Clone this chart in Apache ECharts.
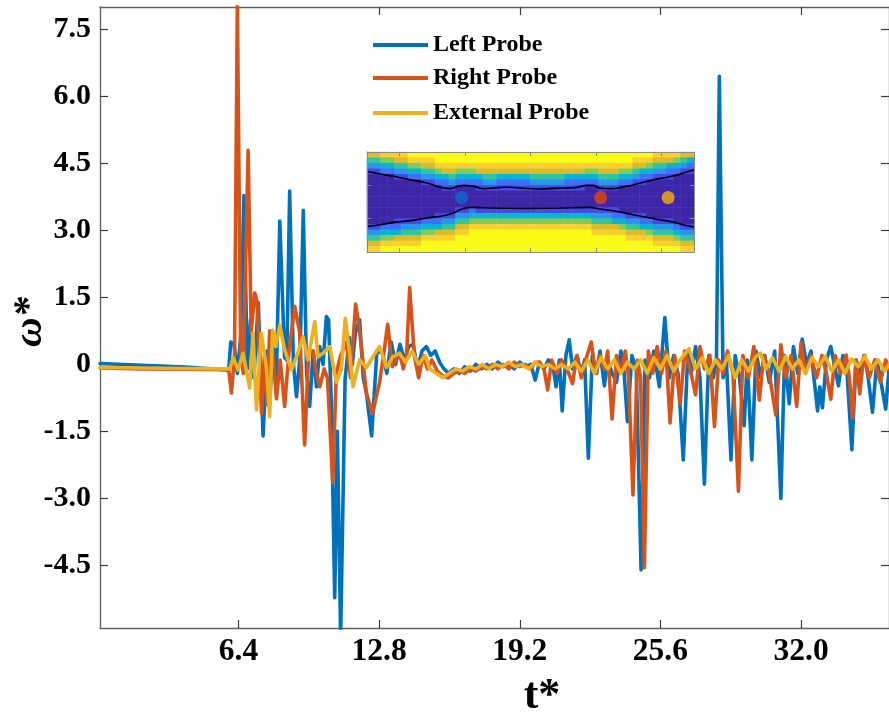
<!DOCTYPE html>
<html>
<head>
<meta charset="utf-8">
<script src="https://cdn.jsdelivr.net/npm/echarts@6/dist/echarts.min.js"></script>
<style>
  html, body { margin: 0; padding: 0; background: #ffffff; }
  #chart { width: 889px; height: 719px; }
</style>
</head>
<body>
<div id="chart"></div>
<script>
// ---- probe signals: [t*, omega*] ----
const leftProbe = [
  [0.1, 0.02], [2, -0.02], [4, -0.06], [5.8, -0.12], [5.95, -0.15], [6.05, 0.5], [6.2, 0.45], [6.35, -0.2],
  [6.5, 0.6], [6.65, 3.78], [6.8, -0.1], [6.95, 1.0], [7.1, -0.3], [7.3, 1.38], [7.52, -1.6], [7.7, 0.3],
  [7.85, -0.6], [8.0, 0.5], [8.12, -0.4], [8.28, 3.21], [8.5, 0.15], [8.6, 0.1], [8.73, 3.88], [8.9, 0.0],
  [9.04, -0.72], [9.2, 0.2], [9.35, 3.45], [9.5, -0.2], [9.64, -0.94], [9.8, 0.3], [9.95, -0.5], [10.1, 0.4],
  [10.25, 0.0], [10.4, 1.07], [10.5, 1.0], [10.62, -0.8], [10.78, -5.22], [10.9, -1.5], [11.05, -6.1], [11.25, -0.34],
  [11.45, 0.6], [11.58, 0.0], [11.72, 0.7], [11.91, 1.0], [12.08, -0.3], [12.22, -0.64], [12.46, -1.6], [12.7, 0.3],
  [12.96, 0.25], [13.15, -0.2], [13.35, 0.5], [13.55, 0.0], [13.75, 0.45], [13.95, 0.1], [14.15, 0.4], [14.35, 0.45],
  [14.55, -0.1], [14.75, 0.3], [14.95, 0.4], [15.15, 0.2], [15.35, 0.3], [15.55, 0.05], [15.75, -0.1], [15.95, -0.2],
  [16.2, -0.1], [16.45, -0.2], [16.7, -0.05], [16.95, -0.15], [17.2, 0.0], [17.45, -0.1], [17.7, 0.0], [17.95, -0.1],
  [18.2, 0.05], [18.45, -0.05], [18.7, 0.0], [18.95, -0.1], [19.2, 0.05], [19.45, -0.05], [19.7, 0.0], [19.9, -0.35],
  [20.1, 0.05], [20.3, -0.1], [20.5, 0.1], [20.7, 0.0], [20.85, -0.5], [21.0, 0.1], [21.13, -1.04], [21.3, 0.2],
  [21.45, 0.55], [21.6, -0.1], [21.8, 0.2], [22.0, -0.2], [22.15, 0.1], [22.32, -2.1], [22.5, 0.2], [22.7, -0.2],
  [22.85, 0.3], [23.05, -0.48], [23.2, 0.1], [23.4, -0.2], [23.6, -0.4], [23.8, 0.3], [23.95, -0.2], [24.1, -1.28],
  [24.3, 0.2], [24.5, -0.1], [24.72, -4.6], [24.9, 0.1], [25.1, -0.3], [25.3, 0.3], [25.55, -0.5], [25.8, 1.05],
  [26.0, -0.3], [26.2, 0.2], [26.4, -0.2], [26.64, -2.14], [26.85, 0.3], [27.0, -0.2], [27.2, 0.4], [27.4, -0.3],
  [27.6, -2.68], [27.8, 0.2], [28.0, -0.3], [28.15, 0.1], [28.28, 6.45], [28.45, -0.3], [28.6, 0.1], [28.81, -2.14],
  [29.0, 0.2], [29.2, -0.3], [29.41, -1.37], [29.55, 0.1], [29.76, -2.14], [29.95, 0.3], [30.15, -0.3], [30.35, 0.2],
  [30.55, -0.4], [30.8, 0.3], [31.08, -3.0], [31.25, 0.2], [31.46, -0.88], [31.65, 0.4], [31.85, -0.2], [32.05, 0.57],
  [32.25, 0.0], [32.45, 0.3], [32.75, -1.04], [32.85, -0.5], [32.97, -0.97], [33.15, 0.1], [33.35, 0.4], [33.55, -0.1],
  [33.7, -0.48], [33.9, 0.2], [34.1, -0.27], [34.31, -1.91], [34.5, 0.1], [34.7, -0.2], [34.9, 0.2], [35.05, -0.3],
  [35.25, -1.07], [35.45, 0.1], [35.6, -0.3], [35.85, -1.0], [36.0, -0.1]
];

const rightProbe = [
  [0.1, -0.08], [2, -0.1], [4, -0.11], [5.8, -0.12], [5.95, -0.1], [6.08, -0.64], [6.22, 0.2], [6.35, 8.1],
  [6.5, 0.3], [6.62, -0.2], [6.84, 4.79], [6.98, 0.7], [7.14, 1.6], [7.25, 1.4], [7.45, -1.1], [7.58, 0.2],
  [7.7, -0.9], [7.82, 0.75], [7.95, 0.3], [8.13, -0.77], [8.3, 0.1], [8.5, -0.94], [8.7, 0.3], [8.96, 1.3],
  [9.19, 0.7], [9.41, -1.8], [9.6, 0.3], [9.79, 0.3], [9.95, -0.2], [10.1, -0.5], [10.3, -0.1], [10.45, -0.3],
  [10.69, -2.65], [10.85, -0.2], [11.05, 0.2], [11.31, 0.5], [11.5, -0.3], [11.73, 1.35], [11.9, 0.8], [12.22, -0.64],
  [12.5, -1.1], [12.82, -0.4], [13.0, 0.2], [13.19, 0.9], [13.4, -0.05], [13.73, 0.25], [13.9, -0.1], [14.05, 0.2],
  [14.19, 1.72], [14.4, 0.2], [14.6, -0.3], [14.8, 0.2], [15.0, -0.1], [15.2, 0.1], [15.45, -0.15], [15.7, -0.25],
  [15.95, -0.3], [16.2, -0.2], [16.45, -0.15], [16.7, -0.2], [16.95, -0.1], [17.2, -0.15], [17.45, -0.05], [17.7, -0.1],
  [17.95, 0.0], [18.2, -0.1], [18.45, 0.0], [18.7, -0.1], [18.95, 0.05], [19.2, -0.05], [19.45, 0.0], [19.7, -0.1],
  [19.9, 0.05], [20.1, 0.05], [20.3, -0.1], [20.47, -0.57], [20.65, 0.1], [20.9, -0.2], [21.1, 0.1], [21.35, -0.1],
  [21.6, -0.43], [21.8, 0.2], [22.0, -0.3], [22.2, 0.1], [22.45, 0.5], [22.65, -0.2], [22.85, 0.2], [23.05, -0.1],
  [23.2, 0.3], [23.4, -1.22], [23.6, 0.2], [23.8, -0.2], [24.0, 0.3], [24.15, -0.3], [24.35, -2.92], [24.55, 0.1],
  [24.7, -0.3], [24.87, -4.55], [25.05, 0.3], [25.25, -0.2], [25.45, 0.4], [25.65, -0.2], [25.85, 0.3], [26.04, -1.31],
  [26.25, 0.2], [26.5, -0.88], [26.7, 0.3], [26.95, -0.1], [27.2, -0.68], [27.4, 0.4], [27.6, -0.1], [27.85, 0.2],
  [28.06, -1.39], [28.25, 0.1], [28.45, -0.2], [28.65, 0.3], [28.9, -0.2], [29.15, -2.84], [29.35, 0.2], [29.6, -0.3],
  [29.85, 0.4], [30.1, -0.8], [30.3, 0.2], [30.55, -0.2], [30.85, -1.13], [31.08, 0.44], [31.3, -0.3], [31.55, 0.2],
  [31.8, -0.94], [32.0, 0.49], [32.2, -0.2], [32.45, 0.2], [32.7, -0.3], [32.95, 0.2], [33.15, -0.2], [33.35, -0.78],
  [33.55, 0.2], [33.8, -0.2], [34.05, 0.21], [34.2, -0.3], [34.34, -1.2], [34.5, 0.1], [34.67, -0.66], [34.85, 0.2],
  [35.1, -0.3], [35.35, 0.1], [35.6, -0.4], [35.85, 0.1], [36.0, -0.1]
];

const externalProbe = [
  [0.1, -0.07], [2, -0.08], [4, -0.09], [5.8, -0.1], [6.0, -0.1], [6.16, 0.15], [6.38, -0.12], [6.61, 0.25],
  [6.91, -0.53], [7.06, 0.7], [7.22, -1.02], [7.44, 0.7], [7.67, -0.07], [7.82, -1.17], [7.95, 0.77], [8.1, 0.4],
  [8.28, 0.88], [8.5, 0.33], [8.81, -0.12], [9.04, 0.17], [9.34, 0.62], [9.56, 0.1], [9.87, 0.96], [10.02, 0.17],
  [10.25, 0.25], [10.55, 0.4], [10.85, -0.4], [11.08, -0.12], [11.26, 1.03], [11.46, 0.25], [11.61, -0.5], [11.91, 0.1],
  [12.22, -0.07], [12.52, 0.17], [12.82, 0.4], [13.13, -0.07], [13.43, 0.17], [13.73, 0.25], [14.0, 0.05], [14.3, 0.3],
  [14.6, 0.0], [14.9, 0.2], [15.1, -0.1], [15.4, -0.2], [15.7, -0.3], [16.0, -0.2], [16.3, -0.1], [16.6, -0.15],
  [16.9, -0.05], [17.2, -0.1], [17.5, 0.0], [17.8, -0.1], [18.1, 0.0], [18.4, -0.05], [18.7, 0.05], [19.0, -0.05],
  [19.3, 0.0], [19.6, -0.1], [19.9, 0.05], [20.2, -0.05], [20.5, 0.0], [20.8, -0.1], [21.1, 0.0], [21.4, -0.1],
  [21.7, 0.05], [22.0, -0.15], [22.3, 0.1], [22.6, -0.2], [22.9, 0.15], [23.2, -0.1], [23.5, 0.1], [23.8, -0.2],
  [24.1, 0.05], [24.4, -0.1], [24.7, 0.1], [25.0, -0.2], [25.3, 0.15], [25.6, -0.1], [25.9, 0.2], [26.2, -0.15],
  [26.5, 0.1], [26.9, 0.35], [27.2, -0.1], [27.5, 0.15], [27.8, -0.2], [28.1, 0.1], [28.4, -0.1], [28.7, 0.2],
  [29.0, -0.3], [29.3, 0.1], [29.6, -0.15], [29.9, 0.15], [30.15, 0.25], [30.4, -0.1], [30.7, 0.15], [31.0, -0.15],
  [31.3, 0.18], [31.6, -0.1], [31.9, 0.1], [32.2, -0.2], [32.5, 0.15], [32.8, -0.05], [33.1, 0.18], [33.4, -0.15],
  [33.7, 0.1], [34.0, -0.2], [34.3, 0.12], [34.6, -0.05], [34.9, 0.18], [35.2, -0.1], [35.5, 0.1], [35.8, -0.15],
  [36.0, 0.0]
];

const seriesNames = ['Left Probe', 'Right Probe', 'External Probe'];
const seriesColors = ['#0072BD', '#D95319', '#EDB120'];

const xTicks = [6.4, 12.8, 19.2, 25.6, 32.0];
const yTicks = [-4.5, -3.0, -1.5, 0, 1.5, 3.0, 4.5, 6.0, 7.5];

// ---- inset: channel field, one string per column (top row first), levels 0..9 ----
const fieldCols = [
  '753100000000013578', '753100000000013578', '864200000000024689', '864200000000024689',
  '875310000000124789', '875310000000135789', '986420000000135789', '986420000000135789',
  '987531000000246899', '987531000000246899', '998642000001247899', '998742100001357899',
  '998753100001357899', '998642000013578999', '998642000013578999', '998642000024689999',
  '998742100014689999', '998753100014689999', '998753100014689999', '998742100014689999',
  '998742100014689999', '998742100014689999', '998742100014689999', '998742100014689999',
  '998753100014689999', '998753100014689999', '998753100014689999', '998753100014689999',
  '998753100014689999', '998742100014689999', '998742100014689999', '998742100014689999',
  '998642000014689999', '998642000013578999', '998753100013578999', '998753100013578999',
  '998753100012478999', '998642000002468999', '998642000001357899', '987531000001357899',
  '987421000001247899', '986420000000246899', '875310000000135789', '875310000000135789',
  '874210000000135789', '864200000000024689', '753100000000013578', '742100000000013578'
];
// contour of the dark core, [column, row]
const topContour = [
  [0, 3.48], [1.95, 3.96], [3.9, 4.38], [6.35, 4.98], [8.79, 5.58], [10.74, 6.36], [12.2, 6.6], [13.43, 6.18],
  [14.16, 6.0], [15.63, 6.18], [17.09, 6.6], [18.55, 6.48], [20.5, 6.3], [22.46, 6.48], [25.39, 6.66], [28.32, 6.48],
  [30.76, 6.36], [32.23, 6.0], [33.2, 6.0], [34.18, 6.48], [36.13, 6.6], [38.09, 6.18], [39.55, 5.76], [41.5, 5.16],
  [43.46, 4.68], [45.41, 4.2], [46.88, 3.6], [48, 3.18]
];
const bottomContour = [
  [0, 13.38], [1.95, 13.08], [3.9, 12.66], [6.35, 12.36], [8.79, 11.88], [11.23, 11.46], [12.7, 10.98], [13.67, 10.38],
  [15.14, 9.96], [18.55, 10.08], [23.44, 10.14], [28.32, 10.08], [32.72, 9.96], [34.18, 10.26], [36.13, 10.56], [39.06, 11.28],
  [41.02, 11.76], [42.97, 12.18], [44.92, 12.6], [46.39, 13.08], [48, 13.5]
];
const probeCols = [13.9, 34.3, 44.2];
const probeRow = 8.2;
const probeColors = ['#0A68D4', '#E5460B', '#F6B300'];
const insetXTicks = [4.8, 14.4, 24.0, 33.6, 43.2];
const insetYTicks = [6, 12];

const parula = ['#3E26A8', '#4747EB', '#3E6FFF', '#2796EB', '#08B5D0', '#31C69F', '#81CC59', '#DCBD29', '#FCCF30', '#F9FB15'];

const FONT = '"Liberation Serif", "Times New Roman", serif';

const heatData = [];
fieldCols.forEach((col, c) => {
  for (let r = 0; r < col.length; r++) heatData.push([c, r, Number(col[r])]);
});
const colCats = fieldCols.map((_, i) => String(i));
const rowCats = fieldCols[0].split('').map((_, i) => String(i));

const mainAxisLine = { show: true, onZero: false, lineStyle: { color: '#5f5f5f', width: 1.3 } };
const insetAxisLine = { show: true, onZero: false, lineStyle: { color: '#8a8a8a', width: 1 } };

const chart = echarts.init(document.getElementById('chart'), null, { renderer: 'canvas' });

chart.setOption({
  animation: false,
  backgroundColor: '#ffffff',
  grid: [
    { left: 100, top: 7, width: 790, height: 621 },
    { left: 367, top: 152, width: 327, height: 100 },
    { left: 367, top: 152, width: 327, height: 100 }
  ],
  xAxis: [
    {
      type: 'value', gridIndex: 0, min: 0.1, max: 36, position: 'bottom',
      axisLine: mainAxisLine,
      axisTick: { show: true, inside: true, length: 8, customValues: xTicks, lineStyle: { color: '#3a3a3a', width: 1.2 } },
      axisLabel: {
        customValues: xTicks, formatter: v => Number(v).toFixed(1), margin: 8,
        fontFamily: FONT, fontWeight: 'bold', fontSize: 31.5, color: '#000'
      },
      splitLine: { show: false }
    },
    {
      type: 'value', gridIndex: 0, min: 0.1, max: 36, position: 'top',
      axisLine: mainAxisLine,
      axisTick: { show: true, inside: true, length: 8, customValues: xTicks, lineStyle: { color: '#3a3a3a', width: 1.2 } },
      axisLabel: { show: false }, splitLine: { show: false }
    },
    { type: 'category', gridIndex: 1, data: colCats, show: false },
    {
      type: 'value', gridIndex: 2, min: 0, max: 48, position: 'bottom', z: 6,
      axisLine: insetAxisLine,
      axisTick: { show: true, inside: true, length: 4, customValues: insetXTicks, lineStyle: { color: '#8a8a8a' } },
      axisLabel: { show: false }, splitLine: { show: false }
    },
    {
      type: 'value', gridIndex: 2, min: 0, max: 48, position: 'top', z: 6,
      axisLine: insetAxisLine,
      axisTick: { show: true, inside: true, length: 4, customValues: insetXTicks, lineStyle: { color: '#8a8a8a' } },
      axisLabel: { show: false }, splitLine: { show: false }
    }
  ],
  yAxis: [
    {
      type: 'value', gridIndex: 0, min: -5.9, max: 8, position: 'left',
      axisLine: mainAxisLine,
      axisTick: { show: true, inside: true, length: 8, customValues: yTicks, lineStyle: { color: '#3a3a3a', width: 1.2 } },
      axisLabel: {
        customValues: yTicks, formatter: v => (Number(v) === 0 ? '0' : Number(v).toFixed(1)), margin: 9,
        fontFamily: FONT, fontWeight: 'bold', fontSize: 30, color: '#000'
      },
      splitLine: { show: false }
    },
    {
      type: 'value', gridIndex: 0, min: -5.9, max: 8, position: 'right',
      axisLine: mainAxisLine,
      axisTick: { show: true, inside: true, length: 8, customValues: yTicks, lineStyle: { color: '#3a3a3a', width: 1.2 } },
      axisLabel: { show: false }, splitLine: { show: false }
    },
    { type: 'category', gridIndex: 1, data: rowCats, inverse: true, show: false },
    {
      type: 'value', gridIndex: 2, min: 0, max: 18, inverse: true, position: 'left', z: 6,
      axisLine: insetAxisLine,
      axisTick: { show: true, inside: true, length: 4, customValues: insetYTicks, lineStyle: { color: '#8a8a8a' } },
      axisLabel: { show: false }, splitLine: { show: false }
    },
    {
      type: 'value', gridIndex: 2, min: 0, max: 18, inverse: true, position: 'right', z: 6,
      axisLine: insetAxisLine,
      axisTick: { show: true, inside: true, length: 4, customValues: insetYTicks, lineStyle: { color: '#8a8a8a' } },
      axisLabel: { show: false }, splitLine: { show: false }
    }
  ],
  visualMap: {
    show: false, type: 'continuous', min: 0, max: 9, dimension: 2, seriesIndex: 3,
    inRange: { color: parula }
  },
  legend: seriesNames.map((name, i) => ({
    data: [name], left: 373, top: [33, 66, 101][i], orient: 'vertical', padding: 0,
    icon: 'rect', itemWidth: 55, itemHeight: 4, selectedMode: false,
    textStyle: { fontFamily: FONT, fontWeight: 'bold', fontSize: 24, color: '#000' }
  })),
  series: [
    ...[leftProbe, rightProbe, externalProbe].map((d, i) => ({
      name: seriesNames[i], type: 'line', xAxisIndex: 0, yAxisIndex: 0, data: d,
      showSymbol: false, symbol: 'none', sampling: 'none', clip: true,
      color: seriesColors[i],
      lineStyle: { color: seriesColors[i], width: 3.6, join: 'round', cap: 'round' },
      emphasis: { disabled: true }, z: 2 + i * 0.1
    })),
    {
      type: 'heatmap', xAxisIndex: 2, yAxisIndex: 2, data: heatData,
      emphasis: { disabled: true }, z: 3, progressive: 0
    },
    {
      type: 'line', xAxisIndex: 3, yAxisIndex: 3, data: topContour, showSymbol: false, symbol: 'none',
      smooth: 0.3, lineStyle: { color: '#000', width: 1.6 }, emphasis: { disabled: true }, z: 4
    },
    {
      type: 'line', xAxisIndex: 3, yAxisIndex: 3, data: bottomContour, showSymbol: false, symbol: 'none',
      smooth: 0.3, lineStyle: { color: '#000', width: 1.6 }, emphasis: { disabled: true }, z: 4
    },
    {
      type: 'scatter', xAxisIndex: 3, yAxisIndex: 3, symbolSize: 13, z: 5,
      data: probeCols.map((c, i) => ({ value: [c, probeRow], itemStyle: { color: probeColors[i] } })),
      emphasis: { disabled: true }
    }
  ],
  graphic: [
    {
      type: 'text', x: 542, y: 697, z: 10,
      style: {
        text: 't*', font: 'bold 44px ' + FONT, fill: '#000',
        textAlign: 'center', textVerticalAlign: 'middle', align: 'center', verticalAlign: 'middle'
      }
    },
    {
      type: 'text', x: 30, y: 322, rotation: Math.PI / 2, z: 10,
      style: {
        text: 'ω*', font: 'italic bold 41px ' + FONT, fill: '#000',
        textAlign: 'center', textVerticalAlign: 'middle', align: 'center', verticalAlign: 'middle'
      }
    }
  ]
});
</script>
</body>
</html>
